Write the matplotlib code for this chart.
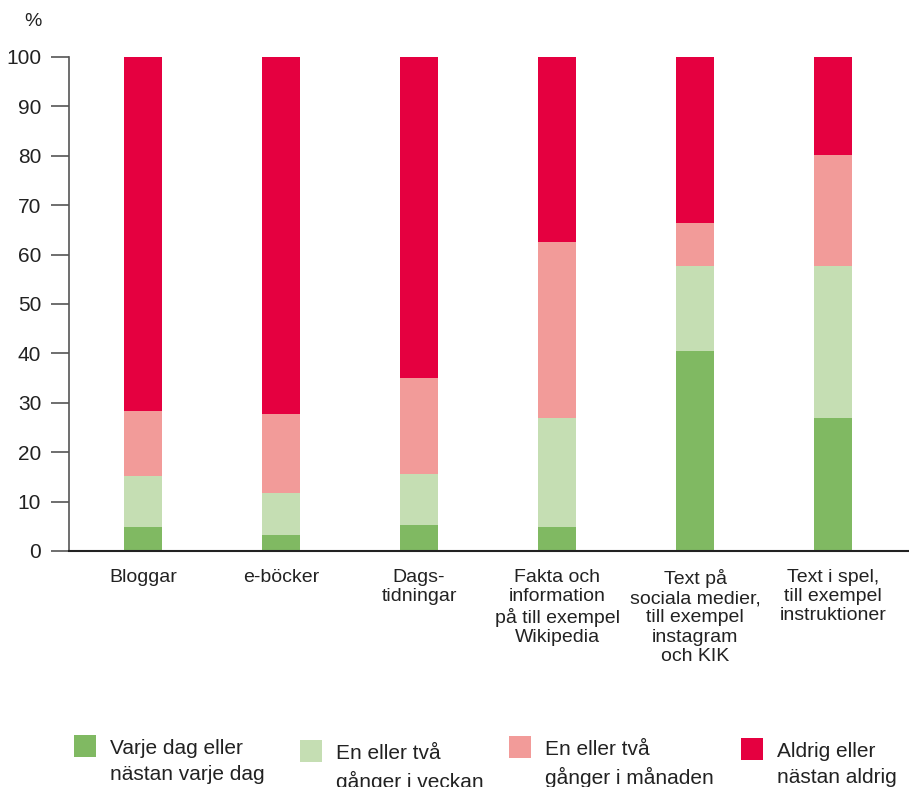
import numpy as np
import matplotlib
matplotlib.use("Agg")
import matplotlib.pyplot as plt
from matplotlib.patches import Rectangle

plt.rcParams['font.family'] = ['Liberation Sans', 'DejaVu Sans']

kategorier = ["Bloggar", "e-böcker", "Dags-\ntidningar",
              "Fakta och\ninformation\npå till exempel\nWikipedia",
              "Text på\nsociala medier,\ntill exempel\ninstagram\noch KIK",
              "Text i spel,\ntill exempel\ninstruktioner"]

# andel (%) per svarsalternativ
varje_dag = [4.8, 3.3, 5.2, 4.8, 40.4, 26.9]
i_veckan = [10.3, 8.5, 10.3, 22.1, 17.2, 30.8]
i_manaden = [13.2, 15.9, 19.6, 35.6, 8.8, 22.4]
aldrig = [71.7, 72.3, 64.9, 37.5, 33.6, 19.9]

serier = [varje_dag, i_veckan, i_manaden, aldrig]
etiketter = ["Varje dag eller\nnästan varje dag", "En eller två\ngånger i veckan",
             "En eller två\ngånger i månaden", "Aldrig eller\nnästan aldrig"]
farger = ["#80B962", "#C5DEB3", "#F29B99", "#E50040"]

W, H = 909, 787
fig = plt.figure(figsize=(W / 100, H / 100), dpi=100)
ax = fig.add_axes([69 / W, 1 - 551 / H, (W - 69) / W, (551 - 57) / H])

x = np.arange(len(kategorier))
botten = np.zeros(len(kategorier))
for varden, farg in zip(serier, farger):
    ax.bar(x, varden, width=0.275, bottom=botten, color=farg, linewidth=0)
    botten += np.array(varden)

ax.set_xlim(-(143 - 69) / 138, (W - 143) / 138)
ax.set_ylim(0, 100)
ax.set_yticks(np.arange(0, 101, 10))
ax.tick_params(axis='y', length=13, width=1.2, color='#555555', labelsize=15,
               labelcolor='#222222', pad=7)
ax.set_xticks(x)
ax.set_xticklabels(kategorier, fontsize=14, color='#222222', linespacing=1.17)
ax.tick_params(axis='x', length=0, pad=13)
for s in ['top', 'right']:
    ax.spines[s].set_visible(False)
ax.spines['left'].set_color('#555555')
ax.spines['left'].set_linewidth(1.2)
ax.spines['bottom'].set_color('#222222')
ax.spines['bottom'].set_linewidth(1.5)

fig.text(33 / W, 1 - 21 / H, "%", fontsize=14, color='#222222', ha='center', va='center')

# förklaring
rutor_x = [74, 300, 509, 741]
rutor_y = [735, 740, 736, 738]
for rx, ry, farg, text in zip(rutor_x, rutor_y, farger, etiketter):
    fig.add_artist(Rectangle((rx / W, 1 - (ry + 22) / H), 22 / W, 22 / H,
                             transform=fig.transFigure, color=farg, lw=0))
    fig.text((rx + 36) / W, 1 - (ry + 4) / H, text, fontsize=15, color='#222222',
             ha='left', va='top', linespacing=1.45)

fig.savefig("out.png", dpi=100)
